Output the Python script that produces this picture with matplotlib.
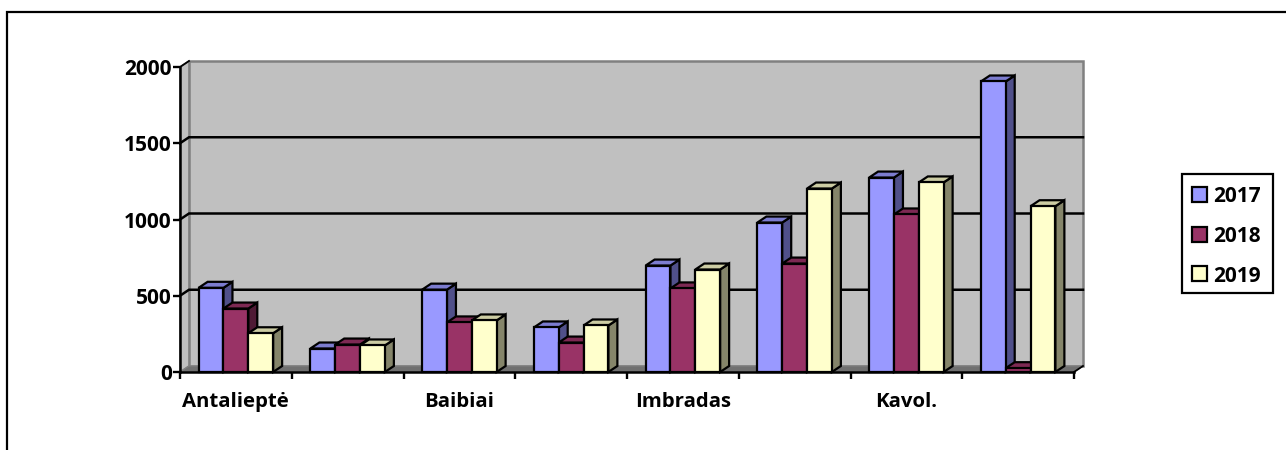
import matplotlib
matplotlib.use("Agg")
import matplotlib.pyplot as plt
from matplotlib.patches import Polygon, Rectangle

# valores
series_names = ["2017", "2018", "2019"]
values_2017 = [552, 154, 540, 292, 698, 980, 1275, 1905]
values_2018 = [416, 180, 325, 193, 548, 711, 1033, 25]
values_2019 = [254, 174, 338, 305, 672, 1203, 1243, 1087]
categories = ["Antalieptė", "", "Baibiai", "", "Imbradas", "", "Kavol.", ""]
y_ticks = [0, 500, 1000, 1500, 2000]

W, H = 1286, 450
FONT = "Open Sans"
PLOT_L, PLOT_R, PLOT_B, PLOT_T = 180, 1074, 372, 67
DEPTH_PX = (9, 6)
BAR_W = 1 / 4.5

front = {"2017": "#9999FF", "2018": "#993366", "2019": "#FFFFCC"}
side = {"2017": "#50508A", "2018": "#4F1A35", "2019": "#85856A"}
top = {"2017": "#7C7CCF", "2018": "#7D2953", "2019": "#CCCCA3"}

fig = plt.figure(figsize=(W / 100, H / 100), dpi=100)
bg = fig.add_axes([0, 0, 1, 1])
bg.set_xlim(0, W)
bg.set_ylim(H, 0)
bg.axis("off")
# marco exterior: solo arriba e izquierda
bg.plot([7, 7, W], [H, 12, 12], color="black", lw=1.6, solid_joinstyle="miter")

ax = fig.add_axes([PLOT_L / W, 1 - PLOT_B / H, (PLOT_R - PLOT_L) / W, (PLOT_B - PLOT_T) / H])
ax.set_xlim(0, len(categories))
ax.set_ylim(0, 2000)
ax.patch.set_visible(False)
for name in ["top", "right"]:
    ax.spines[name].set_visible(False)
for name in ["left", "bottom"]:
    ax.spines[name].set_linewidth(1.8)

# profundidad en unidades de datos
dx = DEPTH_PX[0] * len(categories) / (PLOT_R - PLOT_L)
dy = DEPTH_PX[1] * 2000 / (PLOT_B - PLOT_T)
n = len(categories)


def poly(points, fc, ec="none", lw=0, z=1):
    ax.add_patch(Polygon(points, closed=True, fc=fc, ec=ec, lw=lw, zorder=z,
                         clip_on=False, joinstyle="miter"))


# paredes y piso
poly([(dx, dy), (n + dx, dy), (n + dx, 2000 + dy), (dx, 2000 + dy)], "#C0C0C0", "#808080", 1.8, 1)
poly([(0, 0), (dx, dy), (dx, 2000 + dy), (0, 2000)], "#C0C0C0", "#808080", 1.2, 1)
poly([(0, 0), (n, 0), (n + dx, dy), (dx, dy)], "#707070", "#808080", 0.8, 1.1)
for v in y_ticks[1:-1]:
    ax.plot([0, dx, n + dx], [v, v + dy, v + dy], color="black", lw=1.8, zorder=2,
            clip_on=False, solid_joinstyle="miter")
ax.plot([0, dx], [2000, 2000 + dy], color="black", lw=1.3, zorder=2, clip_on=False)
ax.plot([n, n + dx], [0, dy], color="black", lw=1.3, zorder=2, clip_on=False)

# barras
z = 3
for i in range(n):
    for j, (name, vals) in enumerate(zip(series_names, [values_2017, values_2018, values_2019])):
        x0 = i + 0.75 * BAR_W + j * BAR_W
        x1 = x0 + BAR_W
        v = vals[i]
        poly([(x1, 0), (x1 + dx, dy), (x1 + dx, v + dy), (x1, v)], side[name], "black", 1.6, z)
        poly([(x0, v), (x1, v), (x1 + dx, v + dy), (x0 + dx, v + dy)], top[name], "black", 1.6, z)
        poly([(x0, 0), (x1, 0), (x1, v), (x0, v)], front[name], "black", 1.6, z)
        z += 1

ax.set_xticks(range(n + 1))
ax.set_xticklabels([])
ax.set_yticks(y_ticks)
ax.set_yticklabels([str(v) for v in y_ticks], fontfamily=FONT, fontweight="bold", fontsize=15)
ax.tick_params(axis="y", length=5, width=1.7, pad=1)
ax.tick_params(axis="x", length=5, width=1.7, direction="out")

for i, label in enumerate(categories):
    if label:
        ax.text(i + 0.5, -198, label, ha="center", va="center", fontfamily=FONT,
                fontweight="bold", fontsize=14.7, color="black", clip_on=False)

# leyenda a mano
bg.add_patch(Rectangle((1182, 174), 91, 119, fc="white", ec="black", lw=1.6))
for k, name in enumerate(series_names):
    yc = 194.5 + k * 39.5
    bg.add_patch(Rectangle((1192, yc - 7.5), 15, 15, fc=front[name], ec="black", lw=1.6))
    bg.text(1213, yc + 2.5, name, ha="left", va="center", fontfamily=FONT,
            fontweight="bold", fontsize=15)

fig.savefig("out.png", dpi=100)
